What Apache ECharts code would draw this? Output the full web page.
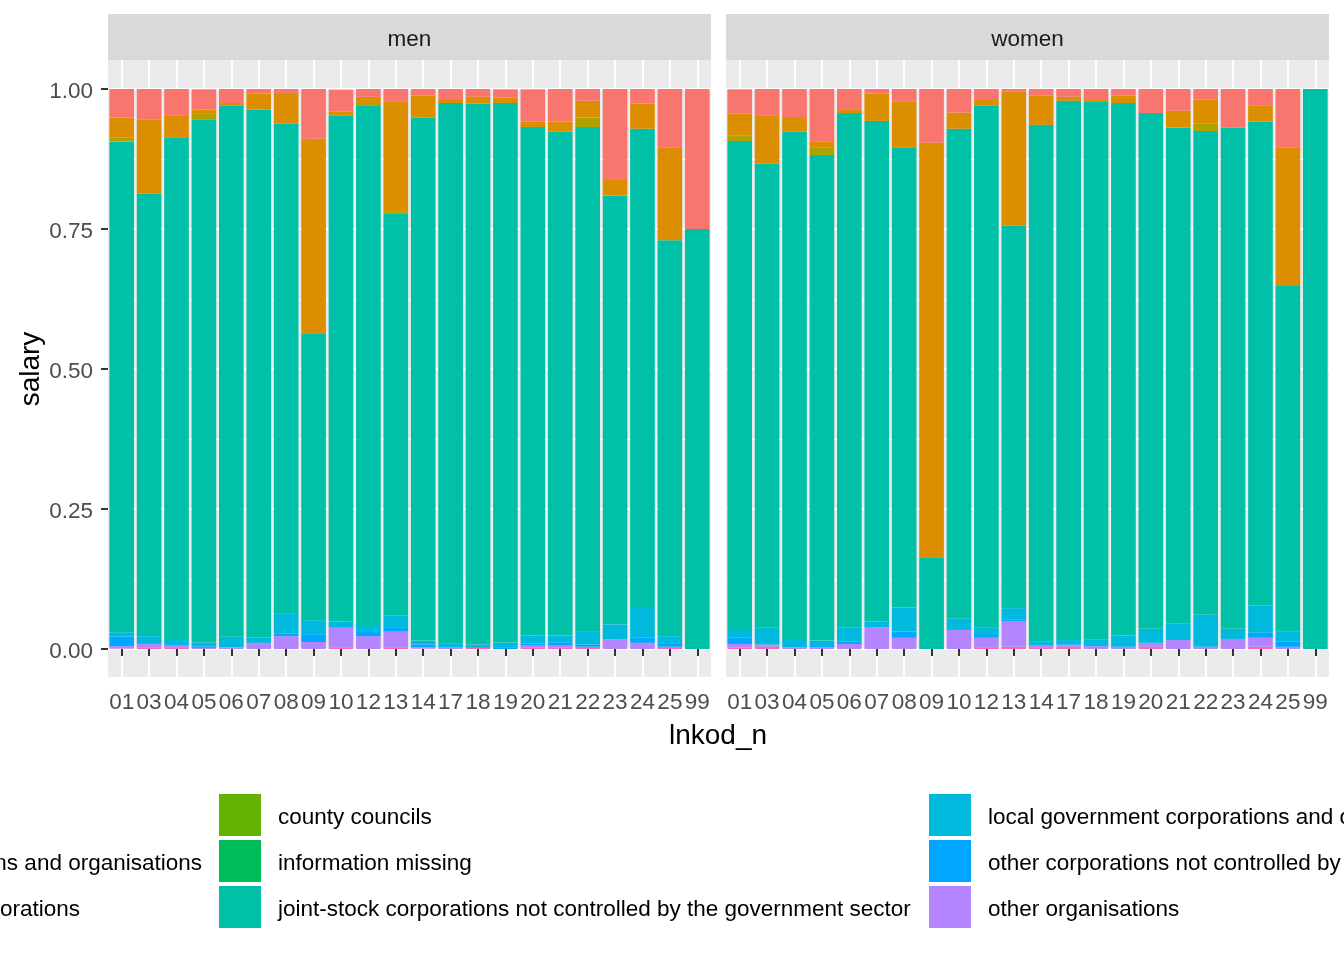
<!DOCTYPE html>
<html>
<head>
<meta charset="utf-8">
<script src="https://cdn.jsdelivr.net/npm/echarts@6/dist/echarts.min.js"></script>
<style>
html,body{margin:0;padding:0;background:#fff;}
#chart{width:1344px;height:960px;}
</style>
</head>
<body>
<div id="chart"></div>
<script>
// ---- categories ----
const cats = ['01','03','04','05','06','07','08','09','10','12','13','14','17','18','19','20','21','22','23','24','25','99'];
const panels = ['men', 'women'];

// legend / sector names (ggplot default alphabetical order) and colours
const sectorNames = [
  'central government',
  'central government corporations and organisations',
  'central government-owned corporations',
  'county councils',
  'information missing',
  'joint-stock corporations not controlled by the government sector',
  'local government corporations and organisations',
  'other corporations not controlled by the government sector',
  'other organisations',
  'primary municipalities',
  'state enterprises'
];
const sectorColors = ['#F8766D','#DB8E00','#AEA200','#64B200','#00BD5C','#00C1A7','#00BADE','#00A6FF','#B385FF','#EF67EB','#FF63B6'];

// ---- men (share of salary) ----
const menRed     = [0.051,0.055,0.048,0.036,0.025,0.008,0.007,0.089,0.039,0.014,0.023,0.012,0.018,0.014,0.015,0.058,0.058,0.021,0.162,0.026,0.104,0.250];
const menOrange  = [0.036,0.132,0.038,0.008,0.005,0.029,0.055,0.347,0.008,0.011,0.195,0.039,0.007,0.012,0.0095,0.0095,0.018,0.030,0.029,0.045,0.166,0];
const menOlive   = [0.007,0,0,0.0095,0,0,0,0,0,0.004,0.005,0,0,0,0,0,0,0.017,0,0,0,0];
const menLime    = [0,0,0,0,0,0,0,0,0,0,0,0,0,0,0,0,0,0,0,0,0,0];
const menGreen   = [0,0,0,0,0,0,0,0,0,0,0,0,0,0,0,0,0,0,0,0,0,0];
const menTeal    = [0.876,0.790,0.896,0.934,0.948,0.9425,0.874,0.5125,0.903,0.928,0.717,0.934,0.9645,0.966,0.9635,0.908,0.900,0.900,0.766,0.854,0.707,0.750];
const menCyan    = [0.008,0.014,0.012,0.008,0.019,0.0095,0.036,0.025,0.011,0.011,0.021,0.007,0.008,0.006,0.0095,0.014,0.012,0.024,0.027,0.055,0.014,0];
const menBlue    = [0.017,0,0,0.002,0,0,0.005,0.014,0,0.009,0.008,0.005,0,0,0.002,0.004,0.006,0.004,0,0.009,0.005,0];
const menPurple  = [0.004,0.007,0.004,0.002,0.003,0.011,0.023,0.0125,0.036,0.023,0.029,0.002,0.0025,0,0,0.004,0.004,0,0.017,0.011,0,0];
const menMagenta = [0,0,0,0,0,0,0,0,0,0,0,0,0,0,0,0,0,0,0,0,0,0];
const menPink    = [0.001,0.002,0.002,0,0,0,0,0,0.002,0,0.002,0.001,0,0.002,0,0.002,0.002,0.004,0,0,0.004,0];

// ---- women (share of salary) ----
const womenRed     = [0.043,0.048,0.050,0.094,0.036,0.008,0.023,0.096,0.043,0.018,0.005,0.012,0.014,0.018,0.012,0.043,0.039,0.019,0.069,0.030,0.104,0];
const womenOrange  = [0.040,0.086,0.026,0.011,0.007,0.049,0.081,0.740,0.029,0.012,0.239,0.052,0.007,0.005,0.013,0,0.030,0.043,0,0.029,0.248,0];
const womenOlive   = [0.0095,0,0,0.013,0,0,0,0,0,0,0,0,0,0,0,0,0,0.013,0,0,0,0];
const womenLime    = [0,0,0,0,0,0,0,0,0,0,0,0,0,0,0,0,0,0,0,0,0,0];
const womenGreen   = [0,0,0,0,0,0,0,0,0,0,0,0,0,0,0,0,0,0,0,0,0,0];
const womenTeal    = [0.873,0.829,0.906,0.867,0.919,0.894,0.822,0.164,0.875,0.931,0.683,0.922,0.963,0.9595,0.951,0.921,0.885,0.864,0.895,0.864,0.617,1.0];
const womenCyan    = [0.014,0.030,0.015,0.008,0.025,0.010,0.043,0,0.020,0.014,0.020,0.007,0.008,0.0125,0.020,0.025,0.030,0.057,0.018,0.049,0.018,0];
const womenBlue    = [0.011,0,0,0.004,0.004,0,0.011,0,0,0.005,0.004,0.001,0.001,0,0,0,0,0,0,0.009,0.009,0];
const womenPurple  = [0.006,0.004,0.003,0.003,0.009,0.039,0.020,0,0.034,0.018,0.045,0.004,0.003,0.005,0.004,0.007,0.016,0.004,0.018,0.016,0.004,0];
const womenMagenta = [0,0,0,0,0,0,0,0,0,0,0,0,0,0,0,0,0,0,0,0,0,0];
const womenPink    = [0.003,0.004,0,0,0,0,0,0,0,0.002,0.004,0.002,0.004,0,0,0.004,0,0,0,0.004,0,0];

// order follows sectorNames
const menData   = [menRed, menOrange, menOlive, menLime, menGreen, menTeal, menCyan, menBlue, menPurple, menMagenta, menPink];
const womenData = [womenRed, womenOrange, womenOlive, womenLime, womenGreen, womenTeal, womenCyan, womenBlue, womenPurple, womenMagenta, womenPink];

// ---- layout ----
const FONT = '"Liberation Sans", Arial, Helvetica, sans-serif';
const panelLeft = [108, 726];
const panelWidth = 603;
const dataTop = 89, dataHeight = 560;
const bgTop = 60, bgHeight = 617;

const grids = [];
const xAxes = [];
const yAxes = [];
// background panels (index 0,1)
for (let p = 0; p < 2; p++) {
  grids.push({left: panelLeft[p], top: bgTop, width: panelWidth, height: bgHeight,
    show: true, backgroundColor: '#EBEBEB', borderWidth: 0, outerBoundsMode: 'none', containLabel: false});
  xAxes.push({type: 'category', gridIndex: p, data: cats, boundaryGap: true,
    axisLine: {show: false}, axisTick: {show: false}, axisLabel: {show: false},
    splitLine: {show: true, interval: 0, alignWithLabel: true, lineStyle: {color: '#FFFFFF', width: 2}}});
  yAxes.push({type: 'value', gridIndex: p, min: 0, max: 1, show: false, splitLine: {show: false}});
}
// data panels (index 2,3)
for (let p = 0; p < 2; p++) {
  grids.push({left: panelLeft[p], top: dataTop, width: panelWidth, height: dataHeight,
    show: false, borderWidth: 0, outerBoundsMode: 'none', containLabel: false});
  xAxes.push({type: 'category', gridIndex: 2 + p, data: cats, boundaryGap: true, offset: 28,
    axisLine: {show: false},
    axisTick: {show: true, interval: 0, alignWithLabel: true, length: 7, lineStyle: {color: '#333333', width: 2}},
    axisLabel: {show: true, interval: 0, margin: 14, fontSize: 22.5, color: '#4D4D4D', fontFamily: FONT},
    splitLine: {show: false}});
  yAxes.push({type: 'value', gridIndex: 2 + p, min: 0, max: 1, interval: 0.25,
    axisLine: {show: false},
    axisTick: {show: p === 0, length: 7, lineStyle: {color: '#333333', width: 2}},
    axisLabel: {show: p === 0, margin: 15, fontSize: 22.5, color: '#4D4D4D', fontFamily: FONT,
      formatter: v => '{a|' + v.toFixed(2) + '}',
      rich: {a: {fontSize: 22.5, color: '#4D4D4D', fontFamily: FONT, padding: [5, 0, 0, 0]}}},
    minorTick: {show: false, splitNumber: 2},
    splitLine: {show: true, lineStyle: {color: '#FFFFFF', width: 2}},
    minorSplitLine: {show: true, lineStyle: {color: '#FFFFFF', width: 1}}});
}

const series = [];
const panelData = [menData, womenData];
for (let p = 0; p < 2; p++) {
  // ggplot stacks the first level on top -> add series from last to first
  for (let k = sectorNames.length - 1; k >= 0; k--) {
    series.push({
      name: sectorNames[k], type: 'bar', stack: panels[p],
      xAxisIndex: 2 + p, yAxisIndex: 2 + p,
      barCategoryGap: '10%', barWidth: '90%',
      itemStyle: {color: sectorColors[k]},
      emphasis: {disabled: true},
      data: panelData[p][k]
    });
  }
}

const legendBase = {orient: 'vertical', icon: 'rect', itemWidth: 42, itemHeight: 42, itemGap: 4,
  padding: 0, top: 794, selectedMode: true,
  formatter: name => '{a|' + name + '}',
  textStyle: {fontSize: 22.5, color: '#000000', fontFamily: FONT,
    rich: {a: {fontSize: 22.5, color: '#000000', fontFamily: FONT, padding: [6, 0, 0, 12]}}}};

const graphics = [];
for (let p = 0; p < 2; p++) {
  graphics.push({type: 'rect', left: panelLeft[p], top: 14, silent: true,
    shape: {width: panelWidth, height: 46}, style: {fill: '#D9D9D9'}});
  graphics.push({type: 'text', x: panelLeft[p] + panelWidth / 2, y: 40, silent: true,
    style: {text: panels[p], fontSize: 22.5, fontFamily: FONT, fill: '#1A1A1A', align: 'center', verticalAlign: 'middle'}});
}
graphics.push({type: 'text', x: 718, y: 736, silent: true,
  style: {text: 'lnkod_n', fontSize: 28, fontFamily: FONT, fill: '#000000', align: 'center', verticalAlign: 'middle'}});
graphics.push({type: 'text', x: 31, y: 369, rotation: Math.PI / 2, silent: true,
  style: {text: 'salary', fontSize: 28, fontFamily: FONT, fill: '#000000', align: 'center', verticalAlign: 'middle'}});
// first legend column, mostly cut off by the left edge (as in the reference)
graphics.push({type: 'text', x: 202, y: 864, silent: true,
  style: {text: sectorNames[1], fontSize: 22.5, fontFamily: FONT, fill: '#000000', align: 'right', verticalAlign: 'middle'}});
graphics.push({type: 'text', x: 80, y: 910, silent: true,
  style: {text: sectorNames[2], fontSize: 22.5, fontFamily: FONT, fill: '#000000', align: 'right', verticalAlign: 'middle'}});

const chart = echarts.init(document.getElementById('chart'), null, {renderer: 'canvas'});
chart.setOption({
  backgroundColor: '#FFFFFF',
  animation: false,
  textStyle: {fontFamily: FONT},
  grid: grids,
  xAxis: xAxes,
  yAxis: yAxes,
  legend: [
    Object.assign({}, legendBase, {left: 219, data: sectorNames.slice(3, 6)}),
    Object.assign({}, legendBase, {left: 929, data: sectorNames.slice(6, 9)})
  ],
  graphic: graphics,
  series: series
});
</script>
</body>
</html>
